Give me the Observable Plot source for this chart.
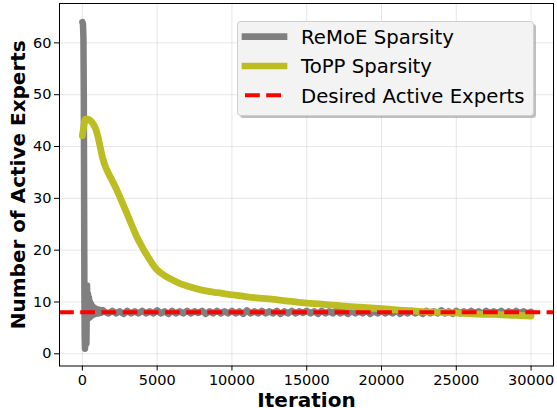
<!DOCTYPE html>
<html><head><meta charset="utf-8">
<script src="https://cdn.jsdelivr.net/npm/d3@7"></script>
<script src="https://cdn.jsdelivr.net/npm/@observablehq/plot@0.6"></script>
<style>
html,body{margin:0;padding:0;background:#fff;}
#chart{width:557px;height:408px;}
</style></head><body><div id="chart"></div>
<script>
const seriesNames = ["ReMoE Sparsity", "ToPP Sparsity", "Desired Active Experts"];
const seriesColors = ["#808080", "#bcbd22", "#ff0000"];
const xTicks = [0, 5000, 10000, 15000, 20000, 25000, 30000];
const yTicks = [0, 10, 20, 30, 40, 50, 60];
const desiredActive = 8;

const remoeIter = [0, 40, 70, 95, 115, 135, 155, 175, 195, 215, 235, 255, 270, 290, 310, 330, 350, 380, 410, 440, 470, 510, 550, 600, 650, 710, 770, 840, 910, 990, 1080, 1170, 1270, 1380,
  1500, 1750, 2000, 2250, 2500, 2750, 3000, 3250, 3500, 3750, 4000,
  4250, 4500, 4750, 5000, 5250, 5500, 5750, 6000, 6250, 6500, 6750,
  7000, 7250, 7500, 7750, 8000, 8250, 8500, 8750, 9000, 9250, 9500,
  9750, 10000, 10250, 10500, 10750, 11000, 11250, 11500, 11750, 12000, 12250,
  12500, 12750, 13000, 13250, 13500, 13750, 14000, 14250, 14500, 14750, 15000,
  15250, 15500, 15750, 16000, 16250, 16500, 16750, 17000, 17250, 17500, 17750,
  18000, 18250, 18500, 18750, 19000, 19250, 19500, 19750, 20000, 20250, 20500,
  20750, 21000, 21250, 21500, 21750, 22000, 22250, 22500, 22750, 23000, 23250,
  23500, 23750, 24000, 24250, 24500, 24750, 25000, 25250, 25500, 25750, 26000,
  26250, 26500, 26750, 27000, 27250, 27500, 27750, 28000, 28250, 28500, 28750,
  29000, 29250, 29500, 29750, 30000];
const remoeValue = [64.0, 63.6, 61, 50, 30, 12, 3, 1.0, 2.5, 9, 13.0, 8, 2, 7, 13.2, 10.5, 7, 11.5, 7.5, 10.8, 7.0, 10.0, 7.2, 9.5, 7.4, 9.1, 7.6, 8.8, 7.7, 8.6, 7.8, 8.5, 7.9, 8.4,
  8.1, 7.8, 8.3, 7.8, 8.2, 7.7, 8.3, 7.8, 8.2, 7.8, 8.3,
  7.8, 8.2, 7.8, 8.4, 7.8, 8.2, 7.7, 8.3, 7.8, 8.2, 7.8,
  8.3, 7.8, 8.2, 7.9, 8.3, 7.7, 8.2, 7.8, 8.3, 7.8, 8.2,
  7.8, 8.3, 7.8, 8.2, 7.7, 8.4, 7.8, 8.2, 7.8, 8.3, 7.8,
  8.2, 7.8, 8.3, 7.7, 8.2, 7.8, 8.3, 7.8, 8.2, 7.9, 8.3,
  7.8, 8.2, 7.7, 8.3, 7.8, 8.2, 7.8, 8.4, 7.8, 8.2, 7.7,
  8.3, 7.8, 8.2, 7.8, 8.3, 7.7, 8.2, 7.8, 8.3, 7.8, 8.2,
  7.8, 8.3, 7.7, 8.2, 7.8, 8.3, 7.8, 8.2, 7.7, 8.3, 7.8,
  8.2, 7.8, 8.4, 7.8, 8.2, 7.7, 8.3, 7.8, 8.2, 7.8, 8.3,
  7.8, 8.2, 7.7, 8.3, 7.8, 8.2, 7.8, 8.3, 7.7, 8.2, 7.8,
  8.3, 7.8, 8.2, 7.8, 8.1];

const toppIter = [0, 100, 200, 350, 535, 755, 900, 1050, 1200, 1350, 1650, 2000, 2320, 2650, 2990, 3320, 3650, 4000, 4320, 4700, 5000, 5500, 6000, 6500, 7000, 8000, 9000, 10000, 11000, 12500, 14000, 15000, 16000, 17500, 19000, 20000, 21000, 22500, 24000, 25000, 26000, 27500, 29000, 30000];
const toppValue = [42.1, 44.0, 45.3, 45.3, 45.0, 44.2, 43.3, 41.8, 39.8, 37.8, 35.4, 33.4, 31.5, 29.3, 27.0, 24.7, 22.5, 20.6, 19.0, 17.3, 16.2, 15.1, 14.3, 13.6, 13.1, 12.3, 11.8, 11.4, 11.0, 10.6, 10.1, 9.8, 9.6, 9.2, 8.9, 8.7, 8.5, 8.2, 8.0, 7.9, 7.7, 7.6, 7.4, 7.3];

const remoe = remoeIter.map((x, i) => ({x, y: remoeValue[i]}));
const topp = toppIter.map((x, i) => ({x, y: toppValue[i]}));

const W = 557, H = 408;
const chart = Plot.plot({
  width: W, height: H,
  marginLeft: 59, marginRight: 4, marginTop: 3, marginBottom: 42.5,
  style: {fontFamily: "DejaVu Sans", fontSize: "14.5px", color: "black", background: "white"},
  x: {domain: [-1530, 31500]},
  y: {domain: [-2.35, 67.6]},
  marks: [
    Plot.gridX(xTicks, {stroke: "#b0b0b0", strokeOpacity: 0.3, strokeWidth: 1}),
    Plot.gridY(yTicks, {stroke: "#b0b0b0", strokeOpacity: 0.3, strokeWidth: 1}),
    Plot.line(remoe, {x: "x", y: "y", stroke: seriesColors[0], strokeWidth: 6.5, strokeLinejoin: "round", strokeLinecap: "round"}),
    Plot.line(topp, {x: "x", y: "y", stroke: seriesColors[1], strokeWidth: 6.8, curve: "monotone-x", strokeLinejoin: "round", strokeLinecap: "round"}),
    Plot.ruleY([desiredActive], {stroke: seriesColors[2], strokeWidth: 4, strokeDasharray: "14.8,6.4"}),
    Plot.frame({stroke: "black", strokeWidth: 1}),
    Plot.axisX(xTicks, {tickSize: 5, tickPadding: 3.5, fontSize: 14.5, tickFormat: d => String(d), label: null}),
    Plot.axisY(yTicks, {tickSize: 5, tickPadding: 3, fontSize: 14.5, tickFormat: d => String(d), label: null}),
    Plot.text(["Iteration"], {frameAnchor: "bottom", dy: 34.5, fontSize: 20, fontWeight: "bold", lineAnchor: "middle", textAnchor: "middle"}),
    Plot.text(["Number of Active Experts"], {frameAnchor: "left", dx: -41.3, rotate: -90, fontSize: 20, fontWeight: "bold", lineAnchor: "middle", textAnchor: "middle"})
  ]
});
document.getElementById("chart").appendChild(chart);

// legend inside the axes (upper right)
const svg = d3.select(chart);
const lg = svg.append("g").attr("class", "legend").attr("text-anchor", "start");
const bx = 237.5, by = 21.5, bw = 296, bh = 94;
lg.append("rect").attr("x", bx + 2.5).attr("y", by + 2.5).attr("width", bw).attr("height", bh).attr("rx", 3)
  .attr("fill", "#7f7f7f").attr("fill-opacity", 0.5);
lg.append("rect").attr("x", bx).attr("y", by).attr("width", bw).attr("height", bh).attr("rx", 3)
  .attr("fill", "#f3f3f3").attr("stroke", "#cfcfcf").attr("stroke-width", 1);
const rowY = [36.7, 66, 95.3];
seriesNames.forEach((name, i) => {
  const yy = rowY[i];
  if (i < 2) {
    lg.append("line").attr("x1", 245).attr("x2", 284).attr("y1", yy).attr("y2", yy)
      .attr("stroke", seriesColors[i]).attr("stroke-width", 6.7).attr("stroke-linecap", "square");
  } else {
    lg.append("line").attr("x1", 245).attr("x2", 284).attr("y1", yy).attr("y2", yy)
      .attr("stroke", seriesColors[i]).attr("stroke-width", 4).attr("stroke-dasharray", "14.8,6.4");
  }
  lg.append("text").attr("x", 301).attr("y", yy + 7.3).attr("font-size", 19.7)
    .attr("font-family", "DejaVu Sans").attr("text-anchor", "start").attr("fill", "black").text(name);
});
</script></body></html>
